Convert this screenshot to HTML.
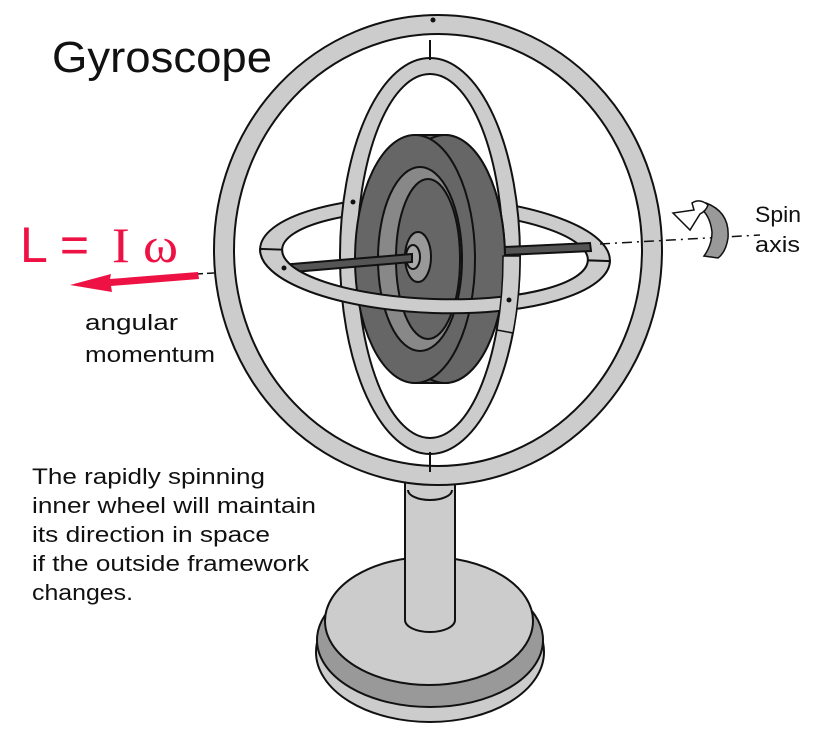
<!DOCTYPE html>
<html><head><meta charset="utf-8"><style>
html,body{margin:0;padding:0;background:#fff}
svg{display:block}
text{font-family:"Liberation Sans",sans-serif;fill:#111}
</style></head><body>
<svg width="836" height="738" viewBox="0 0 836 738" xmlns="http://www.w3.org/2000/svg">
<g stroke="#111" stroke-width="2">
<!-- stand -->
<ellipse cx="430" cy="652" rx="114" ry="70" fill="#ccc"/>
<ellipse cx="430" cy="640" rx="113" ry="67" fill="#999"/>
<ellipse cx="429" cy="621" rx="104" ry="64" fill="#ccc"/>
<path d="M405 482 L405 620 A25 12 0 0 0 455 620 L455 482 Z" fill="#ccc"/>
<path d="M408 490 A22 10 0 0 0 452 490" fill="none"/>
<!-- outer ring -->
<path fill-rule="evenodd" fill="#ccc" d="M214 250 A224 235 0 1 0 662 250 A224 235 0 1 0 214 250 Z M234 250 A204 216 0 1 1 642 250 A204 216 0 1 1 234 250 Z"/>
<!-- horizontal ring back -->
<g transform="rotate(2 435 255)">
<path fill-rule="evenodd" fill="#ccc" d="M260 255 A175 58 0 1 0 610 255 A175 58 0 1 0 260 255 Z M282 255 A153 44 0 1 1 588 255 A153 44 0 1 1 282 255 Z"/>
</g>
<!-- vertical inner ring -->
<path fill-rule="evenodd" fill="#ccc" d="M340 256 A90 198 0 1 0 520 256 A90 198 0 1 0 340 256 Z M357 256 A73 182 0 1 1 503 256 A73 182 0 1 1 357 256 Z"/>
<line x1="430" y1="40" x2="430" y2="60"/>
<line x1="430" y1="452" x2="430" y2="472"/>
<!-- axle right -->
<path d="M440 250 L590 243 L591 251 L441 258 Z" fill="#555"/>
<!-- wheel -->
<path d="M415 135 L445 135 A60 124 0 0 1 445 383 L415 383 Z" fill="#666"/>
<ellipse cx="445" cy="259" rx="60" ry="124" fill="#666"/>
<ellipse cx="415" cy="259" rx="60" ry="124" fill="#666"/>
<ellipse cx="420" cy="259" rx="42" ry="92" fill="#888"/>
<ellipse cx="428" cy="259" rx="32" ry="80" fill="#666"/>
<ellipse cx="418" cy="257" rx="13" ry="25" fill="#999"/>
<ellipse cx="413" cy="257" rx="7" ry="12" fill="#aaa"/>
<!-- axle left -->
<path d="M280 265 L412 254 L412 262 L281 273 Z" fill="#555"/>
<!-- horizontal ring front half -->
<g transform="rotate(2 435 255)">
<path fill="#ccc" d="M260 255 A175 58 0 0 0 610 255 L588 255 A153 44 0 0 1 282 255 Z"/>
</g>
<path fill="#ccc" d="M503 256 A73 182 0 0 1 497 330 L513 333 A90 198 0 0 0 520 256 Z" stroke-width="1.5"/>
</g>
<circle cx="284" cy="268" r="2.5" fill="#111"/>
<circle cx="353" cy="202" r="2.5" fill="#111"/>
<circle cx="509" cy="300" r="2.5" fill="#111"/>
<circle cx="433" cy="20" r="2.5" fill="#111"/>
<!-- dashed axis -->
<line x1="195" y1="274" x2="214" y2="273" stroke="#111" stroke-width="1.5" stroke-dasharray="8 4"/>
<line x1="600" y1="244" x2="760" y2="235" stroke="#111" stroke-width="1.5" stroke-dasharray="10 5 2 5"/>
<!-- spin arrow -->
<path d="M706 203 Q730 212 728 238 Q726 252 718 258 L704 256 Q712 245 712 232 Q710 215 700 208 Z" fill="#999" stroke="#111" stroke-width="1.5"/>
<path d="M708 205 Q700 198 692 203 L694 210 L673 213 L690 230 L700 214 Q706 211 708 205 Z" fill="#fff" stroke="#111" stroke-width="1.5"/>
<!-- red arrow -->
<path d="M198 272 L110 279 L111 274 L70 285 L112 292 L111 286 L199 279 Z" fill="#ee1144"/>
<text x="52" y="72" font-size="44" textLength="220" lengthAdjust="spacingAndGlyphs">Gyroscope</text>
<text x="20" y="262" font-size="50" style="fill:#ee1144">L =</text>
<text x="112" y="262" font-size="50" style="fill:#ee1144;font-family:'Liberation Serif',serif" textLength="66" lengthAdjust="spacingAndGlyphs">I ω</text>
<g font-size="22">
<text x="85" y="330" textLength="93" lengthAdjust="spacingAndGlyphs">angular</text>
<text x="85" y="362" textLength="130" lengthAdjust="spacingAndGlyphs">momentum</text>
<text x="755" y="222" textLength="46" lengthAdjust="spacingAndGlyphs">Spin</text>
<text x="755" y="252" textLength="45" lengthAdjust="spacingAndGlyphs">axis</text>
<text x="32" y="484" textLength="233" lengthAdjust="spacingAndGlyphs">The rapidly spinning</text>
<text x="32" y="513" textLength="284" lengthAdjust="spacingAndGlyphs">inner wheel will maintain</text>
<text x="32" y="542" textLength="238" lengthAdjust="spacingAndGlyphs">its direction in space</text>
<text x="32" y="571" textLength="277" lengthAdjust="spacingAndGlyphs">if the outside framework</text>
<text x="32" y="600" textLength="101" lengthAdjust="spacingAndGlyphs">changes.</text>
</g>
</svg>
</body></html>
